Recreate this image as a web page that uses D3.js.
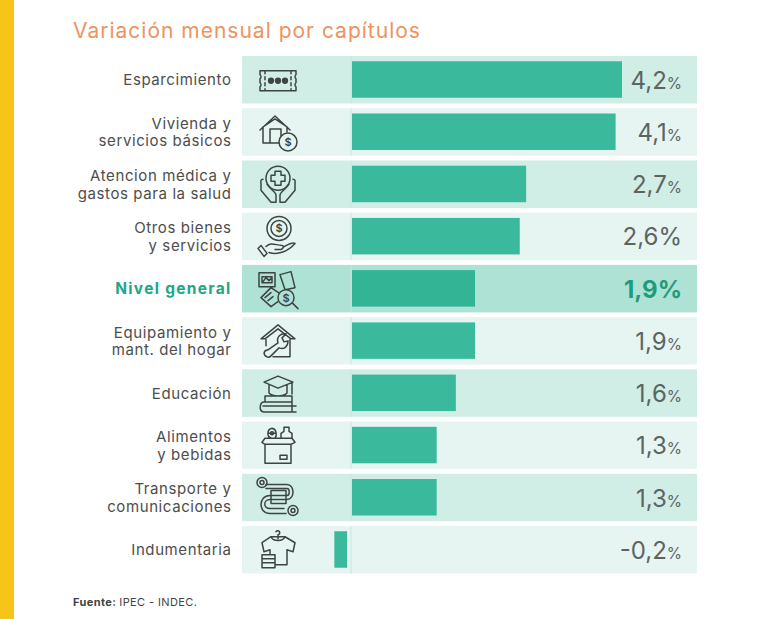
<!DOCTYPE html>
<html><head><meta charset="utf-8">
<script src="https://cdn.jsdelivr.net/npm/d3@7/dist/d3.min.js"></script>
<style>html,body{margin:0;padding:0;background:#fff}svg{display:block}text{font-family:Inter,"Open Sans",sans-serif}</style>
</head><body><svg id="c" width="768" height="619"></svg>
<script>
const categories=[["Esparcimiento"],["Vivienda y","servicios básicos"],["Atencion médica y","gastos para la salud"],["Otros bienes","y servicios"],["Nivel general"],["Equipamiento y","mant. del hogar"],["Educación"],["Alimentos","y bebidas"],["Transporte y","comunicaciones"],["Indumentaria"]];
const values=[4.2,4.1,2.7,2.6,1.9,1.9,1.6,1.3,1.3,-0.2];
const valueLabels=["4,2","4,1","2,7","2,6","1,9","1,9","1,6","1,3","1,3","-0,2"];
const smallPercent=[true,true,true,false,false,true,true,true,true,true];
const bandColors=["#d0ede6","#e7f5f2","#d0ede6","#e7f5f2","#aee2d4","#e7f5f2","#d0ede6","#e7f5f2","#d0ede6","#e7f5f2"];
const highlight=4;

const icons=[
 "M-18,-10H18V-6A2.5,2.5 0 0 0 18,-2V2A2.5,2.5 0 0 0 18,6V10H-18V6A2.5,2.5 0 0 0 -18,2V-2A2.5,2.5 0 0 0 -18,-6ZM-13,-10V-7M-13,-4V-1M-13,2V5M-13,8V10M13,-10V-7M13,-4V-1M13,2V5M13,8V10",
 "M-18,-3L-3,-17L12,-3M-15,-6V10H2M-15,-6L-3,-14L9,-6V-1M-8,10V-4H3V3",
 "M-15,-6C-18,-6 -17,-3 -17,-1V5L-7,17H-2V10C-2,7 -8,4 -11,-1M15,-6C18,-6 17,-3 17,-1V5L7,17H2V10C2,7 8,4 11,-1M-3,-14H3V-10H7V-4H3V0H-3V-4H-7V-10H-3Z",
 "M-17,8L-11,16L-14,19L-20,11ZM-12,9C-7,4 -2,8 4,8C6,8 6,11 3,12H-3M-9,15C0,18 10,14 17,6C13,4 9,8 5,10",
 "M-19,-17H-3V-3H-19ZM-16,-13H-6V-7H-16ZM-15,-8L-12,-12L-9,-9L-6,-12M2,-15L13,-18L17,-2L7,0ZM-17,8L-7,-2L2,4M-17,8L-7,17L0,12M14,13L20,19M-13,8L-7,3M-10,11L-5,7",
 "M-17,-3L0,-17L17,-3L13,-3L0,-13L-13,-3ZM-12,-2V4M12,-3V15H-5M-11,15C-15,13 -15,9 -10,8L0,1C-2,-5 3,-9 8,-8L4,-4L6,0L10,-1C10,5 6,8 1,6L-7,14C-8,15 -9,16 -11,15Z",
 "M-14,-12L0,-18L15,-12L0,-6ZM-9,-9V-1C-5,3 5,3 9,-1V-9M14,-12V0M-13,2H14V8H-13ZM14,8H-14C-18,8 -20,17 -14,18H18M-15,12H18M14,8V18",
 "M-16,-4L-13,-8H14L17,-4L13,-2H-13ZM-13,-2V17H13V-2M2,9H9V13H2ZM-6,-8C-12,-9 -11,-17 -6,-18C-1,-17 -1,-11 -3,-8M-9,-13H-3M3,-8V-13L6,-15V-19H11V-15L14,-13V-8",
 "M-12,-14H9C17,-14 17,1 9,1H-8C-15,1 -15,10 -8,10H6M-12,-10H9C12,-10 12,-3 9,-3H-8C-20,-3 -20,15 -8,15H8M-7,-8H8V5H-7Z",
 "M-16,-8L-7,-14H7L17,-8L15,1L9,-1V14H-3M-8,3V-1L-14,1L-16,-8M-16,4H-3V8H-16ZM-16,8H-3V12H-16ZM-16,12H-3V17H-16ZM-7,-14C-5,-9 5,-9 7,-14M0,-12V-16A2,2 0 1 0 -2,-19"
];
const circles=[
 [[-7,0,2.4,1],[0,0,2.4,1],[7,0,2.4,1]],
 [[10,9,9,0]],
 [[0,-7,12,0]],
 [[1,-9,8,0],[1,-9,12,0]],
 [[8,8,8,0]],
 [],
 [],
 [[-6,-13,1.5,0]],
 [[-16,-16,5,0],[-16,-16,2,0],[15,12,5,0],[15,12,2,0]],
 []
];
const dollars=[null,[10,9],null,[1,-9],[8,8],null,null,null,null,null];

const svg=d3.select("#c");
const x=d3.scaleLinear().domain([0,4.2]).range([353.6,622]);
const barStart=352, negOffset=-6.5;
const y=d3.scaleBand().domain(d3.range(values.length)).range([56,573.5]).paddingInner(0.09).paddingOuter(0);

svg.append("rect").attr("x",0).attr("y",0).attr("width",14).attr("height",619).attr("fill","#f6c518");
svg.append("text").attr("x",73).attr("y",38).attr("font-size",21).attr("letter-spacing",1).attr("fill","#ee9360").text("Variación mensual por capítulos");

const rows=svg.selectAll("g.row").data(values).join("g").attr("class","row");
rows.append("rect").attr("x",242).attr("width",455).attr("y",(d,i)=>y(i)).attr("height",y.bandwidth()).attr("fill",(d,i)=>bandColors[i]);
rows.append("line").attr("x1",351).attr("x2",351).attr("y1",(d,i)=>y(i)).attr("y2",(d,i)=>y(i)+y.bandwidth()).attr("stroke","#c8e6df").attr("stroke-width",1);
rows.append("rect")
 .attr("x",d=>d<0?x(d)+negOffset:barStart)
 .attr("width",d=>d<0?x(0)-x(d):x(d)-barStart)
 .attr("y",(d,i)=>y(i)+y.bandwidth()/2-18.5)
 .attr("height",36.5)
 .attr("fill",(d,i)=>i===highlight?"#33b495":"#3bb99c");

rows.each(function(d,i){
 const g=d3.select(this), cy=y(i)+y.bandwidth()/2;
 const lines=categories[i];
 const t=g.append("text").attr("text-anchor","end")
  .attr("font-size",i===highlight?15.5:15).attr("letter-spacing",i===highlight?1.3:0.6)
  .attr("font-weight",i===highlight?700:400).attr("fill",i===highlight?"#22a585":"#4d4d4d");
 lines.forEach((s,k)=>t.append("tspan").attr("x",231.5).attr("y",cy+5.7+(k-(lines.length-1)/2)*17.5).text(s));
 const ic=g.append("g").attr("transform",`translate(278,${cy+1})`).attr("fill","none").attr("stroke","#3d4543").attr("stroke-width",1.5).attr("stroke-linejoin","round").attr("stroke-linecap","round");
 ic.selectAll("circle").data(circles[i]).join("circle").attr("cx",c=>c[0]).attr("cy",c=>c[1]).attr("r",c=>c[2]).attr("fill",c=>c[3]?"#3d4543":"none");
 ic.append("path").attr("d",icons[i]);
 if(i===1||i===4) ic.select("circle").attr("fill",bandColors[i]).raise();
 if(dollars[i]) ic.append("text").attr("x",dollars[i][0]).attr("y",dollars[i][1]+4).attr("text-anchor","middle").attr("font-size",11).attr("font-weight",600).attr("fill","#3d4543").attr("stroke","none").text("$");
 const v=g.append("text").attr("x",682).attr("y",cy+9).attr("text-anchor","end").attr("fill",i===highlight?"#1f9c7e":"#5c6462").attr("font-size",24).attr("font-weight",i===highlight?700:400);
 v.append("tspan").text(valueLabels[i]);
 v.append("tspan").attr("font-size",smallPercent[i]?15.5:24).text("%");
});

const src=svg.append("text").attr("x",73).attr("y",606).attr("font-size",11).attr("letter-spacing",0.4).attr("fill","#444");
src.append("tspan").attr("font-weight",700).text("Fuente: ");
src.append("tspan").text("IPEC - INDEC.");
</script></body></html>
